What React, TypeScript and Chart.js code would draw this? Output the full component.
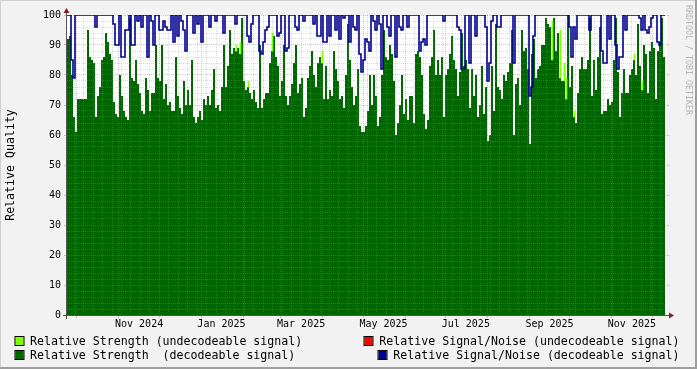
import React, { useEffect, useRef } from "react";
import { Chart, registerables } from "chart.js";

const FONT = "'DejaVu Sans Mono', monospace";
const W = 697;
const H = 369;

// Time axis in days relative to 2024-10-01 00:00
const T_MIN = -7.4;
const T_MAX = 437.0;
const SAMPLE_COUNT = 300;
const SAMPLE_STEP = (T_MAX - T_MIN) / SAMPLE_COUNT;

// Relative Strength (decodeable signal), one value per sample
const strengthDecodeable = [
  92, 93, 80, 66, 61, 72, 72, 72, 72, 72,
  95, 86, 85, 84, 66, 73, 76, 85, 86, 94,
  91, 87, 85, 71, 67, 66, 80, 73, 68, 66,
  65, 99, 79, 78, 85, 77, 74, 68, 67, 79,
  75, 68, 74, 74, 90, 79, 78, 90, 72,
  77, 70, 71, 68, 68, 86, 73, 69, 67, 78,
  70, 75, 70, 85, 66, 64, 66, 68, 65, 72,
  70, 73, 70, 75, 82, 69, 70, 68, 76, 90,
  76, 83, 95, 87, 89, 88, 89, 87, 99, 78,
  75, 76, 74, 72, 75, 71, 69, 90, 69, 72,
  74, 74, 84, 88, 93, 86, 83, 73, 78, 90,
  73, 70, 73, 77, 84, 90, 74, 77, 79, 66,
  69, 79, 83, 88, 80, 76, 84, 86, 84, 72,
  83, 72, 75, 73, 88, 82, 78, 72, 73, 69,
  80, 97, 85, 76, 70, 73, 82, 63, 61, 61,
  63, 68, 80, 70, 80, 73, 63, 66, 80, 95,
  86, 85, 90, 87, 78, 60, 64, 70, 80, 67,
  72, 65, 73, 73, 64, 87, 88, 86, 80, 67,
  62, 65, 83, 86, 95, 80, 85, 80, 86, 66,
  80, 82, 87, 93, 85, 82, 73, 81, 94, 83,
  85, 82, 69, 82, 73, 80, 66, 70, 83, 67,
  76, 58, 60, 83, 68, 97, 76, 75, 72, 80,
  78, 81, 84, 95, 60, 77, 79, 70, 95, 88,
  89, 82, 57, 87, 92, 79, 82, 83, 90, 90,
  99, 97, 96, 85, 99, 88, 94, 79, 78, 78,
  72, 100, 76, 83, 66, 64, 74, 82, 86, 82,
  82, 85, 99, 73, 85, 75, 86, 96, 67, 68,
  68, 72, 70, 71, 85, 99, 81, 66, 74, 82,
  74, 74, 80, 82, 85, 80, 97, 83, 75, 90,
  87, 74, 88, 91, 89, 72, 88, 91, 99, 86,
  89,
];

// Relative Signal/Noise (decodeable signal), one value per sample
const snrDecodeable = [
  100, 100, 85, 79, 100, 100, 100, 100, 100, 100,
  100, 100, 100, 100, 96, 100, 100, 100, 100, 100,
  100, 100, 100, 97, 90, 90, 100, 86, 86, 95,
  95, 100, 90, 90, 100, 98, 100, 96, 100, 100,
  86, 100, 98, 90, 100, 100, 95, 95, 98,
  96, 95, 95, 100, 91, 100, 93, 100, 98, 95,
  88, 100, 100, 100, 94, 100, 97, 100, 91, 100,
  100, 100, 96, 100, 100, 98, 100, 100, 100, 94,
  100, 100, 100, 100, 100, 97, 100, 100, 100, 100,
  100, 93, 91, 97, 100, 100, 100, 88, 87, 91,
  95, 96, 100, 100, 100, 100, 93, 94, 100, 100,
  88, 89, 100, 100, 100, 96, 95, 100, 100, 98,
  100, 100, 100, 100, 97, 100, 93, 93, 100, 91,
  91, 100, 93, 100, 100, 95, 100, 92, 100, 99,
  100, 100, 91, 100, 96, 95, 100, 87, 81, 85,
  92, 91, 88, 100, 98, 95, 100, 97, 82, 100,
  100, 96, 93, 100, 100, 86, 100, 96, 95, 100,
  100, 96, 100, 100, 100, 100, 100, 88, 91, 92,
  90, 100, 100, 100, 100, 100, 100, 100, 100, 98,
  100, 100, 100, 100, 100, 100, 96, 95, 82, 82,
  100, 100, 84, 100, 100, 93, 100, 100, 100, 100,
  96, 78, 84, 98, 100, 100, 96, 96, 100, 100,
  100, 100, 100, 100, 84, 100, 100, 100, 100, 100,
  100, 100, 73, 76, 93, 100, 100, 100, 100, 100,
  100, 100, 100, 100, 100, 100, 100, 100, 100, 100,
  100, 100, 96, 86, 96, 92, 100, 100, 100, 100,
  100, 100, 95, 100, 100, 100, 100, 100, 88, 84,
  84, 100, 92, 100, 100, 90, 82, 86, 86, 100,
  95, 100, 100, 100, 100, 100, 100, 99, 95, 100,
  95, 94, 96, 99, 100, 100, 91, 90, 100, 100,
  100,
];

// Relative Strength (undecodeable signal): [sample index, value]
const strengthUndecodeable = [
  [84, 90], [86, 91], [90, 78], [102, 94], [127, 88], [240, 91],
  [242, 98], [246, 95], [248, 84], [249, 79], [253, 68], [283, 87], [287, 78],
];
// Relative Signal/Noise (undecodeable signal): none visible
const snrUndecodeable: number[][] = [];

const monthLabels = ["Nov 2024", "Jan 2025", "Mar 2025", "May 2025", "Jul 2025", "Sep 2025", "Nov 2025"];
const monthLabelStarts = [[2024, 10], [2025, 0], [2025, 2], [2025, 4], [2025, 6], [2025, 8], [2025, 10]];
const yTicks = [0, 10, 20, 30, 40, 50, 60, 70, 80, 90, 100];

const GREEN = "#006600";
const LIME = "#80ff00";
const RED = "#ff0000";
const BLUE = "#00008f";
const GRID_MINOR = "rgba(143,143,143,0.32)";
const GRID_MAJOR = "rgba(222,79,79,0.4)";

const legendLeft = [
  { color: LIME, text: "Relative Strength (undecodeable signal)" },
  { color: GREEN, text: "Relative Strength  (decodeable signal)" },
];
const legendRight = [
  { color: RED, text: "Relative Signal/Noise (undecodeable signal)" },
  { color: BLUE, text: "Relative Signal/Noise (decodeable signal)" },
];

const dayOffset = (y: number, m: number, d: number) =>
  (Date.UTC(y, m, d) - Date.UTC(2024, 9, 1)) / 86400000;

const labelValues = monthLabelStarts.map(([y, m]) => dayOffset(y, m, 1) + 15);
const monthGrid: number[] = [];
for (let i = 0; i < 16; i++) {
  const v = dayOffset(2024, 9 + i, 1);
  if (v > T_MIN && v < T_MAX) monthGrid.push(v);
}
const weekGrid: number[] = [];
for (let v = dayOffset(2024, 8, 29); v < T_MAX; v += 7) {
  if (v > T_MIN && !monthGrid.some((m) => Math.abs(m - v) < 0.5)) weekGrid.push(v);
}
const yMinorGrid: number[] = [];
for (let v = 2; v < 100; v += 2) if (v % 10 !== 0) yMinorGrid.push(v);

// Background plugin: registered before the built-in plugins so that it paints
// before the Filler plugin draws the area (filler drawTime: beforeDraw).
const backgroundPlugin = {
  id: "rrdBackground",
  beforeDraw(chart: any) {
    const { ctx, chartArea: a } = chart;
    ctx.save();
    ctx.fillStyle = "#f2f2f2";
    ctx.fillRect(0, 0, W, H);
    ctx.fillStyle = "#cfcfcf";
    ctx.fillRect(0, 0, W, 1);
    ctx.fillRect(0, 0, 1, H);
    ctx.fillStyle = "#9e9e9e";
    ctx.fillRect(0, H - 2, W, 2);
    ctx.fillRect(W - 2, 0, 2, H);
    ctx.fillStyle = "#ffffff";
    ctx.fillRect(a.left, a.top, a.right - a.left, a.bottom - a.top);
    ctx.restore();
  },
};
Chart.register(backgroundPlugin as any);
Chart.register(...registerables);

const decorPlugin = {
  id: "rrdDecor",
  afterDraw(chart: any) {
    const { ctx, chartArea: a } = chart;
    ctx.save();
    // axes
    ctx.strokeStyle = "#555555";
    ctx.lineWidth = 1;
    ctx.beginPath();
    ctx.moveTo(a.left - 4, a.bottom + 0.5);
    ctx.lineTo(a.right + 4, a.bottom + 0.5);
    ctx.moveTo(a.left - 0.5, a.bottom + 4);
    ctx.lineTo(a.left - 0.5, a.top - 4);
    ctx.stroke();
    // arrows
    ctx.fillStyle = "#7f1f1f";
    ctx.beginPath();
    ctx.moveTo(a.right + 2, a.bottom + 0.5 - 3);
    ctx.lineTo(a.right + 2, a.bottom + 0.5 + 3);
    ctx.lineTo(a.right + 7, a.bottom + 0.5);
    ctx.closePath();
    ctx.fill();
    ctx.beginPath();
    ctx.moveTo(a.left - 0.5 - 3, a.top - 2);
    ctx.lineTo(a.left - 0.5 + 3, a.top - 2);
    ctx.lineTo(a.left - 0.5, a.top - 7);
    ctx.closePath();
    ctx.fill();
    // legend
    ctx.font = `11.6px ${FONT}`;
    ctx.textBaseline = "alphabetic";
    const rows = [345, 359];
    const drawBox = (x: number, y: number, color: string) => {
      ctx.fillStyle = color;
      ctx.fillRect(x, y, 8, 8);
      ctx.strokeStyle = "#000";
      ctx.lineWidth = 1;
      ctx.strokeRect(x - 0.5, y - 0.5, 9, 9);
    };
    legendLeft.forEach((it, i) => {
      drawBox(15.5, rows[i] - 8, it.color);
      ctx.fillStyle = "#000";
      ctx.textAlign = "left";
      ctx.fillText(it.text, 30, rows[i]);
    });
    legendRight.forEach((it, i) => {
      const w = ctx.measureText(it.text).width;
      const x0 = 679.5 - w;
      drawBox(Math.round(x0 - 15) + 0.5, rows[i] - 8, it.color);
      ctx.fillStyle = "#000";
      ctx.textAlign = "left";
      ctx.fillText(it.text, x0, rows[i]);
    });
    // watermark
    ctx.translate(688, 5);
    ctx.rotate(Math.PI / 2);
    ctx.font = `8.3px ${FONT}`;
    ctx.fillStyle = "#b4b4b4";
    ctx.textAlign = "left";
    ctx.textBaseline = "middle";
    ctx.fillText("RRDTOOL / TOBI OETIKER", 0, 0);
    ctx.restore();
  },
};

const gridAxis = (position: string, values: number[], color: string, tickLength: number, isX: boolean, onArea = true) => ({
  type: "linear",
  position,
  min: isX ? T_MIN : 0,
  max: isX ? T_MAX : 100,
  offset: false,
  afterBuildTicks: (s: any) => {
    s.ticks = values.map((v) => ({ value: v }));
  },
  grid: {
    display: true,
    drawOnChartArea: onArea,
    offset: false,
    color,
    lineWidth: 1,
    drawTicks: true,
    tickLength,
    tickColor: color,
  },
  border: { display: false, dash: [1, 1] },
  ticks: { display: false },
  afterFit: (s: any) => {
    if (isX) s.height = 0;
    else s.width = 0;
  },
});

export default function App() {
  const ref = useRef<HTMLCanvasElement>(null);

  useEffect(() => {
    const canvas = ref.current;
    if (!canvas) return;
    const t = (i: number) => T_MIN + i * SAMPLE_STEP;
    const chart = new Chart(canvas, {
      type: "line",
      data: {
        datasets: [
          {
            type: "bar",
            label: legendLeft[0].text,
            data: strengthUndecodeable
              .filter(([i, v]) => v > strengthDecodeable[i])
              .map(([i, v]) => ({ x: T_MIN + (i + 0.75) * SAMPLE_STEP, y: [strengthDecodeable[i], v] })),
            backgroundColor: LIME,
            borderWidth: 0,
            barThickness: 1,
            grouped: false,
            order: 4,
            xAxisID: "x",
            yAxisID: "y",
          },
          {
            type: "line",
            label: legendRight[0].text,
            data: snrUndecodeable.map(([i, v]) => ({ x: t(i), y: v })),
            borderColor: RED,
            borderWidth: 1.5,
            pointRadius: 0,
            stepped: true,
            fill: false,
            order: 3,
            xAxisID: "x",
            yAxisID: "y",
          },
          {
            type: "line",
            label: legendLeft[1].text,
            data: strengthDecodeable.map((v, i) => ({ x: t(i), y: v })),
            backgroundColor: GREEN,
            borderColor: "rgba(0,0,0,0)",
            borderWidth: 0,
            pointRadius: 0,
            stepped: true,
            fill: "origin",
            order: 2,
            xAxisID: "x",
            yAxisID: "y",
          },
          {
            type: "line",
            label: legendRight[1].text,
            data: snrDecodeable.map((v, i) => ({ x: t(i), y: v })),
            borderColor: BLUE,
            borderWidth: 1.6,
            pointRadius: 0,
            stepped: true,
            fill: false,
            order: 1,
            xAxisID: "x",
            yAxisID: "y",
          },
        ],
      },
      options: {
        responsive: false,
        animation: false,
        devicePixelRatio: 1,
        events: [],
        layout: { padding: { left: 0, right: 30, top: 15, bottom: 34 } },
        plugins: {
          legend: { display: false },
          tooltip: { enabled: false },
          title: { display: false },
          filler: { drawTime: "beforeDraw" },
        },
        scales: {
          x: {
            type: "linear",
            position: "bottom",
            min: T_MIN,
            max: T_MAX,
            offset: false,
            weight: 2,
            afterBuildTicks: (s: any) => {
              s.ticks = labelValues.map((v) => ({ value: v }));
            },
            grid: { display: false, offset: false, drawTicks: false },
            border: { display: false },
            ticks: {
              autoSkip: false,
              maxRotation: 0,
              minRotation: 0,
              padding: 3,
              color: "#000",
              font: { family: FONT, size: 10 },
              callback: (value: any) => {
                const idx = labelValues.findIndex((v) => Math.abs(v - value) < 0.01);
                return idx >= 0 ? monthLabels[idx] : "";
              },
            },
            afterFit: (s: any) => {
              s.height = 20;
            },
          },
          xWeek: { ...gridAxis("bottom", weekGrid, GRID_MINOR, 1, true), weight: 0 },
          xMonth: { ...gridAxis("bottom", monthGrid, GRID_MAJOR, 3, true), weight: 1 },
          y: {
            type: "linear",
            position: "left",
            min: 0,
            max: 100,
            weight: 2,
            afterBuildTicks: (s: any) => {
              s.ticks = yTicks.map((v) => ({ value: v }));
            },
            grid: {
              display: true,
              color: GRID_MAJOR,
              lineWidth: 1,
              drawTicks: true,
              tickLength: 3,
              tickColor: GRID_MAJOR,
            },
            border: { display: false, dash: [1, 1] },
            ticks: {
              padding: 3,
              color: "#000",
              font: { family: FONT, size: 10 },
              callback: (v: any) => String(v),
            },
            title: {
              display: true,
              text: "Relative Quality",
              color: "#000",
              font: { family: FONT, size: 11.6 },
              padding: { top: 4, bottom: 0 },
            },
            afterFit: (s: any) => {
              s.width = 67;
            },
          },
          yMinor: { ...gridAxis("left", yMinorGrid, GRID_MINOR, 1, false), weight: 0 },
          yRight: { ...gridAxis("right", yTicks, GRID_MAJOR, 2, false, false), weight: 0 },
        },
      } as any,
      plugins: [decorPlugin],
    } as any);
    return () => chart.destroy();
  }, []);

  return (
    <div style={{ position: "fixed", left: 0, top: 0, width: W, height: H }}>
      <canvas ref={ref} width={W} height={H} style={{ display: "block", width: W, height: H }} />
    </div>
  );
}
